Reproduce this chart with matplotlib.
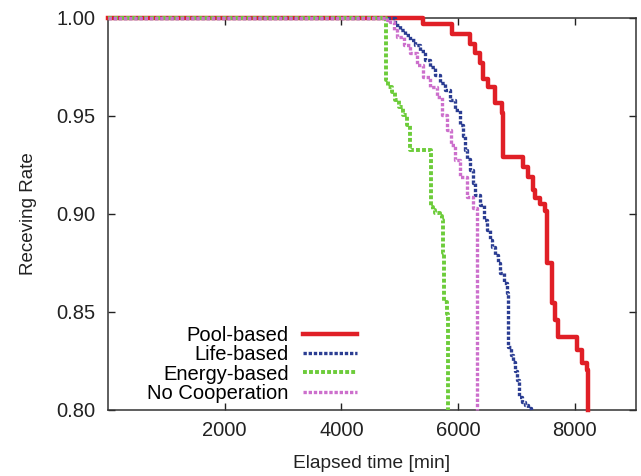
import matplotlib
matplotlib.use("Agg")
import matplotlib.pyplot as plt

# step curves (elapsed minutes, receiving rate)
pool_t = [0, 5400, 5896, 6205, 6291, 6376, 6430, 6511, 6633, 6753, 6771, 7113, 7199,
          7285, 7319, 7405, 7490, 7520, 7611, 7662, 7713, 8039, 8125, 8210, 8228]
pool_r = [1.0, 0.9969, 0.9918, 0.9867, 0.9821, 0.9770, 0.9690, 0.9648, 0.9566, 0.9515,
          0.9290, 0.9240, 0.9190, 0.9120, 0.9080, 0.9050, 0.9015, 0.8750, 0.8546, 0.8460,
          0.8372, 0.8306, 0.8240, 0.8204, 0.80]

life_t = [0, 4920, 5005, 5090, 5177, 5260, 5348, 5430, 5519, 5600, 5691, 5776, 5862,
          5948, 6034, 6080, 6119, 6160, 6205, 6250, 6291, 6376, 6445, 6500, 6548, 6590,
          6633, 6680, 6719, 6780, 6839, 6850, 6856, 6900, 6942, 6980, 7011, 7045, 7100,
          7148, 7200, 7250]
life_r = [1.0, 0.9964, 0.9940, 0.9913, 0.9890, 0.9862, 0.9830, 0.9786, 0.9750, 0.9709,
          0.9670, 0.9633, 0.9582, 0.9531, 0.9454, 0.9400, 0.9327, 0.9280, 0.9224, 0.9160,
          0.9097, 0.9046, 0.8969, 0.8920, 0.8867, 0.8830, 0.8791, 0.8750, 0.8699, 0.8650,
          0.8597, 0.8450, 0.8321, 0.8280, 0.8245, 0.8200, 0.8153, 0.8066, 0.8040, 0.8026,
          0.8010, 0.80]

energy_t = [0, 4765, 4800, 4868, 4920, 4988, 5057, 5125, 5177, 5537, 5571, 5600, 5691,
            5725, 5742, 5760, 5811, 5828]
energy_r = [1.0, 0.9684, 0.9648, 0.9622, 0.9582, 0.9546, 0.9505, 0.9454, 0.9327, 0.9036,
            0.9020, 0.9005, 0.8990, 0.8970, 0.8800, 0.8550, 0.8490, 0.80]

nocoop_t = [0, 4782, 4834, 4900, 4954, 5074, 5177, 5296, 5399, 5519, 5639, 5725, 5811,
            5879, 5948, 6034, 6154, 6256, 6325]
nocoop_r = [1.0, 0.9990, 0.9980, 0.9940, 0.9903, 0.9862, 0.9821, 0.9760, 0.9699, 0.9648,
            0.9597, 0.9505, 0.9429, 0.9352, 0.9276, 0.9189, 0.9087, 0.9031, 0.80]

labels = ["Pool-based", "Life-based", "Energy-based", "No Cooperation"]

plt.rcParams["font.family"] = ["Liberation Sans", "DejaVu Sans"]

fig = plt.figure(figsize=(6.41, 4.76), dpi=100)
ax = fig.add_axes([0.1685, 0.1387, 0.8237, 0.8235])

dot = (0, (1.0, 0.55))
ax.plot(pool_t, pool_r, drawstyle="steps-post", color="#e01f26", lw=3.2,
        label=labels[0], clip_on=False, zorder=3)
ax.plot(life_t, life_r, drawstyle="steps-post", color="#2b3d92", lw=2.4, ls=dot,
        label=labels[1], clip_on=False, zorder=4)
ax.plot(energy_t, energy_r, drawstyle="steps-post", color="#6ccc3a", lw=2.8, ls=dot,
        label=labels[2], clip_on=False, zorder=5)
ax.plot(nocoop_t, nocoop_r, drawstyle="steps-post", color="#cc6fcc", lw=2.4, ls=dot,
        label=labels[3], clip_on=False, zorder=6)

ax.set_xlim(0, 9050)
ax.set_ylim(0.80, 1.0)
ax.set_xticks([2000, 4000, 6000, 8000])
ax.set_yticks([0.80, 0.85, 0.90, 0.95, 1.00])
ax.set_yticklabels(["0.80", "0.85", "0.90", "0.95", "1.00"])
ax.tick_params(direction="in", top=True, right=True, length=5, width=1,
               labelsize=14.5, colors="#222222")
ax.tick_params(axis="x", pad=8)
ax.tick_params(axis="y", pad=9)
for s in ax.spines.values():
    s.set_linewidth(1.1)
    s.set_color("#333333")

ax.set_xlabel("Elapsed time [min]", fontsize=13.8, color="#222222", labelpad=11)
ax.set_ylabel("Receving Rate", fontsize=13.5, color="#222222", labelpad=14)

ax.legend(loc="lower right", bbox_to_anchor=(0.472, 0.018), frameon=False,
          markerfirst=False, fontsize=14.5, handlelength=2.7, handletextpad=0.7,
          labelspacing=0.02, borderpad=0, borderaxespad=0)

fig.savefig("out.png", dpi=100)
